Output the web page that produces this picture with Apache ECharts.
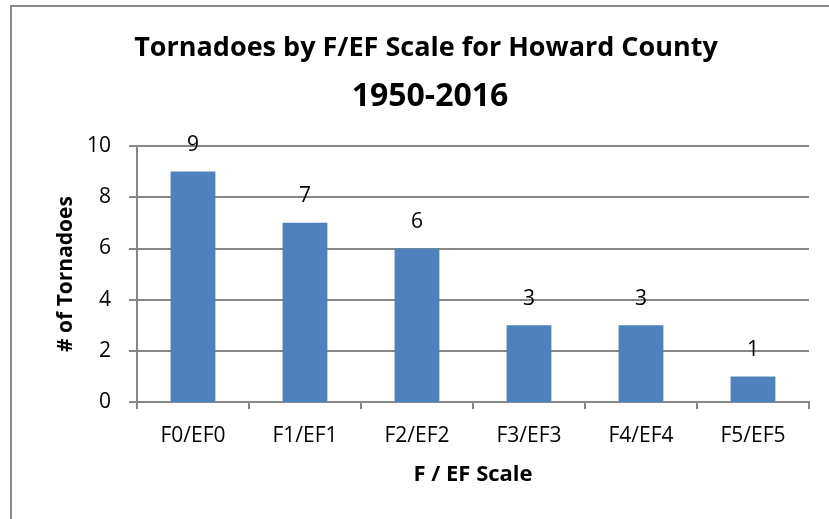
<!DOCTYPE html>
<html>
<head>
<meta charset="utf-8">
<script src="https://cdn.jsdelivr.net/npm/echarts@6/dist/echarts.min.js"></script>
<style>
  html, body { margin: 0; padding: 0; background: #fff; }
  #chart { width: 829px; height: 519px; }
</style>
</head>
<body>
<div id="chart"></div>
<script>
// data
var categories = ["F0/EF0", "F1/EF1", "F2/EF2", "F3/EF3", "F4/EF4", "F5/EF5"];
var tornadoCounts = [9, 7, 6, 3, 3, 1];
var titleLine1 = "Tornadoes by F/EF Scale for Howard County";
var titleLine2 = "1950-2016";

var font = "Open Sans";
var chart = echarts.init(document.getElementById("chart"));

chart.setOption({
  animation: false,
  textStyle: { fontFamily: font },
  graphic: [
    {
      type: "rect",
      shape: { x: 11, y: 6, width: 900, height: 600 },
      style: { fill: "none", stroke: "#8a8a8a", lineWidth: 2 }
    }
  ],
  title: [
    {
      text: titleLine1,
      left: 421,
      top: 30,
      textAlign: "center",
      textStyle: { fontFamily: font, fontSize: 27, fontWeight: "bold", color: "#000" }
    },
    {
      text: titleLine2,
      left: 425,
      top: 76,
      textAlign: "center",
      textStyle: { fontFamily: font, fontSize: 32, fontWeight: "bold", color: "#000" }
    }
  ],
  grid: {
    left: 137,
    right: 20,
    top: 146,
    bottom: 117
  },
  xAxis: {
    type: "category",
    data: categories,
    name: "F / EF Scale",
    nameLocation: "middle",
    nameGap: 62,
    nameTextStyle: { fontFamily: font, fontSize: 22, fontWeight: "bold", color: "#000" },
    axisLine: { lineStyle: { color: "#868686", width: 2 } },
    axisTick: { show: true, length: 7, lineStyle: { color: "#868686", width: 2 } },
    axisLabel: { fontFamily: font, fontSize: 21, color: "#000", margin: 24 }
  },
  yAxis: {
    type: "value",
    min: 0,
    max: 10,
    interval: 2,
    name: "# of Tornadoes",
    nameLocation: "middle",
    nameGap: 58,
    nameTextStyle: { fontFamily: font, fontSize: 21, fontWeight: "bold", color: "#000" },
    axisLine: { show: true, lineStyle: { color: "#868686", width: 2 } },
    axisTick: { show: true, length: 8, lineStyle: { color: "#868686", width: 2 } },
    axisLabel: { fontFamily: font, fontSize: 21, color: "#000", margin: 26 },
    splitLine: { lineStyle: { color: "#868686", width: 2 } }
  },
  series: [
    {
      type: "bar",
      data: tornadoCounts,
      barWidth: "40%",
      itemStyle: { color: "#4f81bd" },
      label: {
        show: true,
        position: "top",
        distance: 16,
        fontFamily: font,
        fontSize: 21,
        color: "#000"
      }
    }
  ]
});
</script>
</body>
</html>
